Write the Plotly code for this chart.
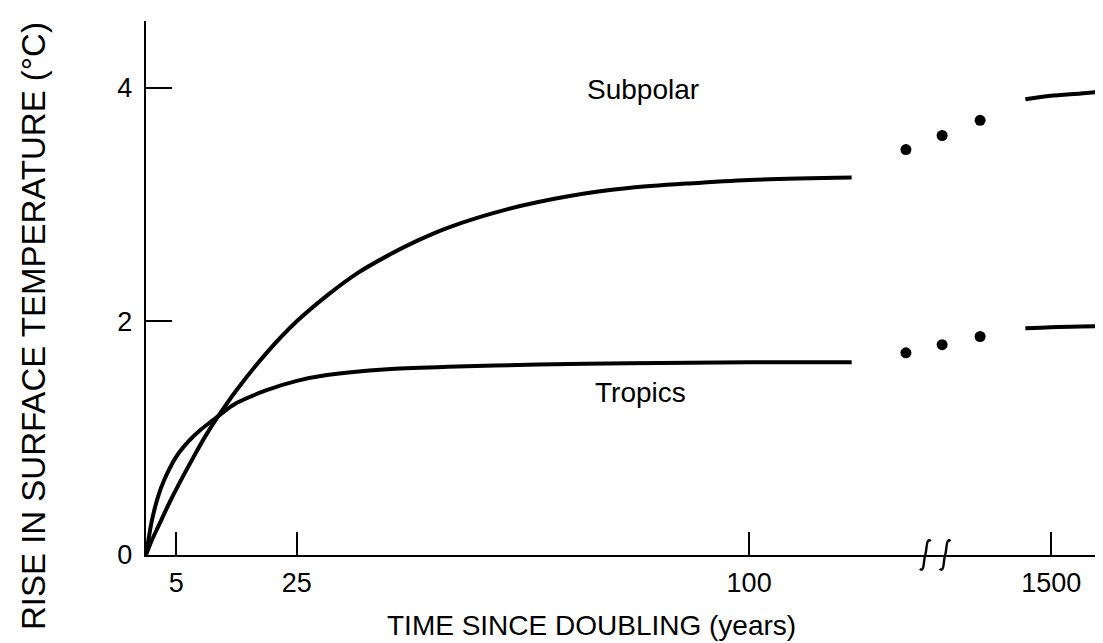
import plotly.graph_objects as go

# --- data ---
# main period: years since doubling (linear part of the axis)
tropics_years = [0, 1, 2, 3, 5, 7, 9, 11, 13, 15, 20, 25, 30, 40, 50, 65, 80, 100, 117]
tropics_temp = [0, 0.30, 0.50, 0.64, 0.84, 0.97, 1.07, 1.15, 1.23, 1.30, 1.41, 1.49, 1.54, 1.59, 1.61, 1.63, 1.64, 1.65, 1.65]

subpolar_years = [0, 1, 2, 4, 6, 8, 10, 12, 15, 20, 25, 30, 35, 40, 45, 50, 60, 70, 80, 90, 100, 117]
subpolar_temp = [0, 0.13, 0.24, 0.46, 0.66, 0.85, 1.03, 1.19, 1.41, 1.73, 2.00, 2.22, 2.41, 2.56, 2.69, 2.80, 2.96, 3.07, 3.14, 3.18, 3.21, 3.23]

# ellipsis dots after the curves (positions on the broken axis, axis units)
dots_pos = [126.0, 132.0, 138.3]
subpolar_dots = [3.47, 3.59, 3.72]
tropics_dots = [1.73, 1.80, 1.87]

# long-term equilibrium segment around 1500 years (axis units after the break)
longterm_pos = [145.8, 150.0, 155.0, 159.5]
subpolar_long = [3.90, 3.93, 3.95, 3.97]
tropics_long = [1.94, 1.95, 1.955, 1.96]

x_tickvals = [5, 25, 100, 150.1]
x_ticktext = ["5", "25", "100", "1500"]
y_tickvals = [0, 2, 4]
y_ticktext = ["0", "2", "4"]
break_pos = [129.2, 132.5]

FONT = "Liberation Sans, Arial, Helvetica, sans-serif"
LW = 4

fig = go.Figure()
for xs, ys in [(subpolar_years, subpolar_temp), (tropics_years, tropics_temp),
               (longterm_pos, subpolar_long), (longterm_pos, tropics_long)]:
    fig.add_trace(go.Scatter(x=xs, y=ys, mode="lines",
                             line=dict(color="black", width=LW, shape="spline", smoothing=0.8),
                             showlegend=False, hoverinfo="skip"))
for ys in [subpolar_dots, tropics_dots]:
    fig.add_trace(go.Scatter(x=dots_pos, y=ys, mode="markers", marker=dict(color="black", size=11),
                             showlegend=False, hoverinfo="skip"))

# axis break marks
for bx in break_pos:
    path = (f"M {bx-0.9},-0.026 C {bx-0.1},-0.034 {bx-0.3},-0.008 {bx},0 "
            f"C {bx+0.3},0.008 {bx+0.1},0.034 {bx+0.9},0.026")
    fig.add_shape(type="path", path=path, xref="x", yref="paper",
                  line=dict(color="black", width=2.4))

fig.add_annotation(x=82.4, y=3.98, text="Subpolar", showarrow=False,
                   font=dict(family=FONT, size=28, color="black"))
fig.add_annotation(x=82.0, y=1.39, text="Tropics", showarrow=False,
                   font=dict(family=FONT, size=28, color="black"))

fig.add_annotation(xref="paper", yref="paper", x=(583 - 138) / 965, y=(547 - 617) / 534,
                   xanchor="center", yanchor="middle",
                   text="TIME SINCE DOUBLING (years)", showarrow=False,
                   font=dict(family=FONT, size=28, color="black"))
fig.add_annotation(xref="paper", yref="paper", x=(25 - 138) / 965, y=(547 - 318) / 534,
                   xanchor="center", yanchor="middle",
                   text="RISE IN SURFACE TEMPERATURE (°C)", showarrow=False, textangle=-90,
                   font=dict(family=FONT, size=33, color="black"))

fig.update_xaxes(range=[0, 160], showline=True, linecolor="black", linewidth=2.4,
                 ticks="inside", ticklen=23, tickwidth=2, tickcolor="black",
                 tickvals=x_tickvals, ticktext=x_ticktext, showgrid=False, zeroline=False,
                 tickfont=dict(family=FONT, size=27, color="black"), ticklabelstandoff=2)
fig.update_yaxes(range=[0, 4.57], showline=True, linecolor="black", linewidth=2.4,
                 ticks="inside", ticklen=26, tickwidth=2, tickcolor="black",
                 tickvals=y_tickvals, ticktext=y_ticktext, showgrid=False, zeroline=False,
                 tickfont=dict(family=FONT, size=27, color="black"), ticklabelstandoff=6)

fig.update_layout(width=1103, height=643, margin=dict(l=138, r=0, t=13, b=96),
                  paper_bgcolor="white", plot_bgcolor="white")
fig.write_html("out.html")
